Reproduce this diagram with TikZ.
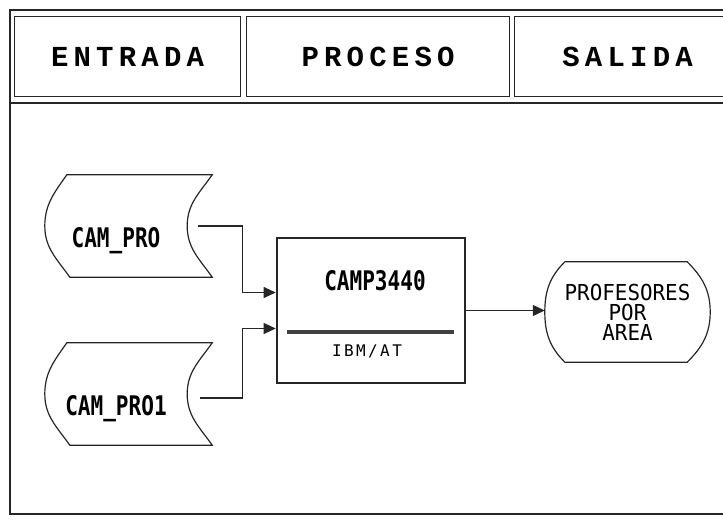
\documentclass[tikz,border=0pt]{standalone}
\usepackage{fontspec}
\setmainfont{DejaVu Sans Mono}
\newfontfamily\headfont[LetterSpace=18]{Liberation Mono}
\newfontfamily\dotfont[FakeStretch=0.78]{DejaVu Sans Mono}
\newfontfamily\dotwide[FakeStretch=0.95]{DejaVu Sans Mono}
\newfontfamily\dotsmall[LetterSpace=15]{DejaVu Sans Mono}
\usetikzlibrary{arrows.meta, positioning, calc}

\begin{document}
\begin{tikzpicture}[
  x=1pt, y=-1pt,
  line/.style={draw=black!85,line width=1.2pt},
  headbox/.style={line,anchor=north west,minimum height=80pt,font=\headfont\bfseries\fontsize{29}{36}\selectfont},
  store/.style={minimum width=142pt,minimum height=102pt,inner sep=0pt,text height=42pt,text depth=0pt,font=\dotfont\bfseries\fontsize{27}{30}\selectfont},
  display/.style={minimum width=165pt,minimum height=100pt,inner sep=0pt,align=center,font=\dotwide\fontsize{22}{20}\selectfont},
  process/.style={draw=black!85,line width=2.6pt,minimum width=188pt,minimum height=145pt},
  arrow/.style={line,-{Triangle[length=12pt,width=11pt]}}
]
  \useasboundingbox (0,0) rectangle (723,522);
  % frame
  \draw[line] (10,10) rectangle (740,514);
  \draw[line] (10,103) -- (740,103);
  \node[headbox,minimum width=226pt] (entrada) at (14,16) {ENTRADA};
  \node[headbox,minimum width=263pt] (proceso) at (246,16) {PROCESO};
  \node[headbox,minimum width=226pt] (salida) at (514,16) {SALIDA};

  % entradas
  \node[store] (campro) at (116,226) {CAM\_PRO};
  \node[store] (campro1) at (116,394) {CAM\_PRO1};
  \foreach \n in {campro,campro1}
    \draw[line] ([xshift=22pt]\n.north west) -- ([xshift=25pt]\n.north east)
      to[out=-125,in=90] (\n.east) to[out=-90,in=125] ([xshift=25pt]\n.south east)
      -- ([xshift=25pt]\n.south west) to[out=125,in=-90] (\n.west) to[out=90,in=-125] cycle;

  % proceso
  \node[process] (camp) at (371,310.5) {};
  \node[font=\dotfont\bfseries\fontsize{27}{30}\selectfont] (camptitle) at ([xshift=4pt,yshift=30pt]camp.center) {CAMP3440};
  \draw[draw=black!75,line width=4.5pt] ([xshift=11pt,yshift=-21.5pt]camp.west) -- ([xshift=-12pt,yshift=-21.5pt]camp.east);
  \node[font=\dotsmall\fontsize{16}{18}\selectfont] (ibm) at ([xshift=-4pt,yshift=-40.5pt]camp.center) {IBM/AT};

  % salida
  \node[display] (prof) at (627.5,312) {PROFESORES\\POR\\AREA};
  \draw[line] ([xshift=20pt]prof.north west) -- ([xshift=-23pt]prof.north east)
    to[out=-45,in=90] (prof.east) to[out=-90,in=45] ([xshift=-23pt]prof.south east)
    -- ([xshift=20pt]prof.south west) to[out=135,in=-90] (prof.west) to[out=90,in=-135] cycle;

  \draw[arrow] ([xshift=11pt]campro.east) -- ++(44,0) |- ([yshift=18pt]camp.west);
  \draw[arrow] ([xshift=13pt,yshift=-4pt]campro1.east) -- ++(42,0) |- ([yshift=-18pt]camp.west);
  \draw[arrow] (camp.east) -- (camp.east -| prof.west);
\end{tikzpicture}
\end{document}
